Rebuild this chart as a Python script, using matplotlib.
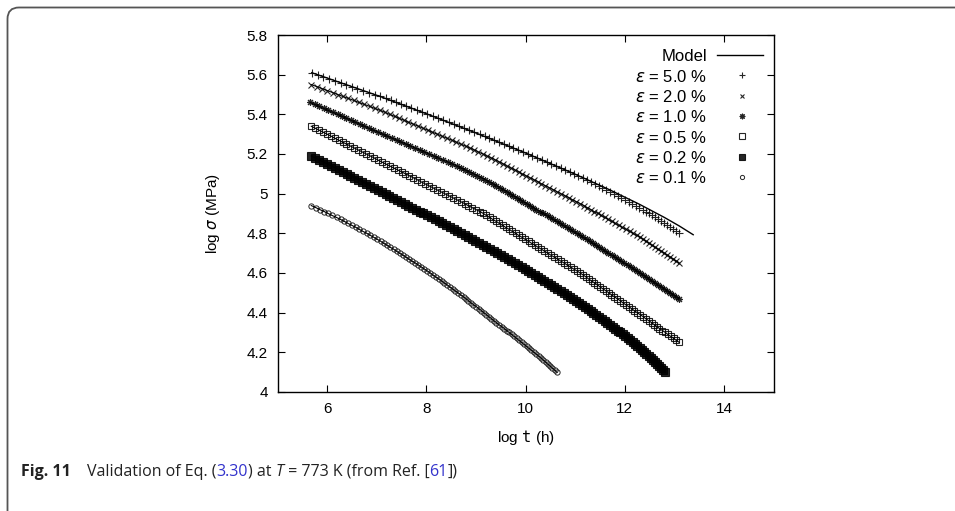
import matplotlib
matplotlib.use("Agg")
import matplotlib.pyplot as plt
from matplotlib.patches import FancyBboxPatch
from matplotlib.ticker import FuncFormatter

plt.rcParams["font.family"] = ["Liberation Sans", "DejaVu Sans"]
plt.rcParams["mathtext.fontset"] = "dejavusans"

# log sigma levels shared by all series (stress steps of the computed curves)
sig_levels = [
    5.61, 5.60, 5.59, 5.58, 5.57, 5.56, 5.55, 5.54, 5.53, 5.52,
    5.51, 5.50, 5.49, 5.48, 5.47, 5.46, 5.45, 5.44, 5.43, 5.42,
    5.41, 5.40, 5.39, 5.38, 5.37, 5.36, 5.35, 5.34, 5.33, 5.32,
    5.31, 5.30, 5.29, 5.28, 5.27, 5.26, 5.25, 5.24, 5.23, 5.22,
    5.21, 5.20, 5.19, 5.18, 5.17, 5.16, 5.15, 5.14, 5.13, 5.12,
    5.11, 5.10, 5.09, 5.08, 5.07, 5.06, 5.05, 5.04, 5.03, 5.02,
    5.01, 5.00, 4.99, 4.98, 4.97, 4.96, 4.95, 4.94, 4.93, 4.92,
    4.91, 4.90, 4.89, 4.88, 4.87, 4.86, 4.85, 4.84, 4.83, 4.82,
    4.81, 4.80, 4.79, 4.78, 4.77, 4.76, 4.75, 4.74, 4.73, 4.72,
    4.71, 4.70, 4.69, 4.68, 4.67, 4.66, 4.65, 4.64, 4.63, 4.62,
    4.61, 4.60, 4.59, 4.58, 4.57, 4.56, 4.55, 4.54, 4.53, 4.52,
    4.51, 4.50, 4.49, 4.48, 4.47, 4.46, 4.45, 4.44, 4.43, 4.42,
    4.41, 4.40, 4.39, 4.38, 4.37, 4.36, 4.35, 4.34, 4.33, 4.32,
    4.31, 4.30, 4.29, 4.28, 4.27, 4.26, 4.25, 4.24, 4.23, 4.22,
    4.21, 4.20, 4.19, 4.18, 4.17, 4.16, 4.15, 4.14, 4.13, 4.12,
    4.11, 4.10,
]

# log t values (h), one per stress level, starting at the given log sigma
t_50 = [
    5.69, 5.81, 5.92, 6.04, 6.15, 6.27, 6.38, 6.50, 6.61, 6.73,
    6.84, 6.96, 7.07, 7.18, 7.28, 7.39, 7.49, 7.60, 7.70, 7.81,
    7.92, 8.02, 8.13, 8.23, 8.34, 8.45, 8.55, 8.66, 8.76, 8.87,
    8.97, 9.08, 9.18, 9.27, 9.37, 9.46, 9.56, 9.66, 9.75, 9.85,
    9.95, 10.04, 10.14, 10.23, 10.33, 10.43, 10.52, 10.62, 10.71, 10.80,
    10.89, 10.98, 11.06, 11.15, 11.23, 11.31, 11.40, 11.48, 11.55, 11.63,
    11.71, 11.78, 11.86, 11.93, 12.01, 12.08, 12.15, 12.22, 12.29, 12.36,
    12.42, 12.49, 12.55, 12.61, 12.67, 12.74, 12.80, 12.86, 12.92, 12.98,
    13.04, 13.10,
]
t_20 = [
    5.68, 5.79, 5.89, 6.00, 6.11, 6.21, 6.32, 6.43, 6.54, 6.64,
    6.75, 6.86, 6.96, 7.07, 7.17, 7.26, 7.36, 7.45, 7.55, 7.64,
    7.74, 7.84, 7.93, 8.03, 8.12, 8.22, 8.31, 8.41, 8.51, 8.60,
    8.69, 8.79, 8.88, 8.97, 9.05, 9.14, 9.22, 9.31, 9.39, 9.47,
    9.55, 9.62, 9.70, 9.78, 9.86, 9.93, 10.01, 10.09, 10.17, 10.25,
    10.32, 10.40, 10.48, 10.56, 10.63, 10.71, 10.79, 10.87, 10.94, 11.02,
    11.10, 11.17, 11.24, 11.31, 11.38, 11.46, 11.53, 11.60, 11.67, 11.74,
    11.81, 11.88, 11.95, 12.03, 12.10, 12.17, 12.24, 12.31, 12.37, 12.43,
    12.49, 12.55, 12.61, 12.67, 12.74, 12.80, 12.86, 12.92, 12.98, 13.04,
    13.10,
]
t_10 = [
    5.66, 5.75, 5.84, 5.93, 6.02, 6.12, 6.21, 6.30, 6.39, 6.48,
    6.57, 6.66, 6.75, 6.84, 6.93, 7.03, 7.12, 7.21, 7.31, 7.40,
    7.49, 7.59, 7.68, 7.77, 7.87, 7.96, 8.05, 8.15, 8.24, 8.33,
    8.43, 8.52, 8.61, 8.69, 8.78, 8.86, 8.95, 9.03, 9.11, 9.19,
    9.26, 9.34, 9.41, 9.48, 9.55, 9.62, 9.69, 9.75, 9.82, 9.89,
    9.95, 10.02, 10.09, 10.16, 10.22, 10.29, 10.36, 10.43, 10.49, 10.56,
    10.63, 10.70, 10.76, 10.83, 10.90, 10.96, 11.03, 11.10, 11.16, 11.23,
    11.29, 11.35, 11.42, 11.48, 11.55, 11.61, 11.67, 11.74, 11.80, 11.86,
    11.93, 11.99, 12.06, 12.12, 12.18, 12.25, 12.31, 12.37, 12.43, 12.49,
    12.55, 12.61, 12.67, 12.74, 12.80, 12.86, 12.92, 12.98, 13.04, 13.10,
]
t_05 = [
    5.68, 5.76, 5.84, 5.92, 6.00, 6.08, 6.15, 6.23, 6.31, 6.39,
    6.47, 6.55, 6.63, 6.71, 6.79, 6.87, 6.95, 7.02, 7.10, 7.18,
    7.26, 7.34, 7.42, 7.50, 7.58, 7.66, 7.74, 7.82, 7.89, 7.97,
    8.05, 8.13, 8.21, 8.29, 8.37, 8.45, 8.53, 8.61, 8.69, 8.77,
    8.84, 8.92, 9.00, 9.08, 9.15, 9.21, 9.28, 9.34, 9.41, 9.47,
    9.54, 9.60, 9.67, 9.73, 9.80, 9.86, 9.93, 9.99, 10.06, 10.12,
    10.19, 10.25, 10.32, 10.38, 10.45, 10.51, 10.58, 10.65, 10.71, 10.78,
    10.84, 10.91, 10.97, 11.04, 11.10, 11.16, 11.22, 11.27, 11.33, 11.39,
    11.45, 11.50, 11.56, 11.62, 11.68, 11.73, 11.79, 11.85, 11.91, 11.96,
    12.02, 12.08, 12.14, 12.19, 12.25, 12.31, 12.37, 12.42, 12.48, 12.54,
    12.59, 12.65, 12.70, 12.76, 12.82, 12.87, 12.93, 12.99, 13.04, 13.10,
]
t_02 = [
    5.68, 5.76, 5.84, 5.92, 6.00, 6.08, 6.16, 6.24, 6.32, 6.40,
    6.47, 6.55, 6.63, 6.71, 6.79, 6.87, 6.94, 7.02, 7.10, 7.18,
    7.25, 7.33, 7.41, 7.49, 7.56, 7.64, 7.72, 7.79, 7.87, 7.94,
    8.02, 8.10, 8.17, 8.25, 8.32, 8.40, 8.47, 8.55, 8.62, 8.70,
    8.77, 8.85, 8.92, 8.99, 9.07, 9.14, 9.21, 9.29, 9.36, 9.43,
    9.50, 9.57, 9.64, 9.71, 9.78, 9.85, 9.92, 9.99, 10.05, 10.12,
    10.19, 10.25, 10.32, 10.38, 10.45, 10.51, 10.58, 10.64, 10.71, 10.77,
    10.83, 10.89, 10.96, 11.02, 11.08, 11.14, 11.20, 11.26, 11.31, 11.37,
    11.43, 11.49, 11.54, 11.60, 11.65, 11.70, 11.76, 11.81, 11.86, 11.91,
    11.96, 12.01, 12.06, 12.11, 12.16, 12.20, 12.25, 12.30, 12.34, 12.39,
    12.43, 12.48, 12.52, 12.56, 12.60, 12.65, 12.69, 12.73, 12.77, 12.81,
]
t_01 = [
    5.68, 5.77, 5.85, 5.94, 6.02, 6.10, 6.19, 6.27, 6.35, 6.42,
    6.50, 6.58, 6.65, 6.72, 6.80, 6.87, 6.94, 7.01, 7.08, 7.14,
    7.21, 7.27, 7.34, 7.40, 7.46, 7.53, 7.59, 7.65, 7.71, 7.78,
    7.84, 7.90, 7.96, 8.02, 8.08, 8.13, 8.19, 8.25, 8.31, 8.36,
    8.42, 8.47, 8.53, 8.58, 8.64, 8.69, 8.75, 8.80, 8.85, 8.90,
    8.95, 9.01, 9.06, 9.11, 9.16, 9.21, 9.26, 9.31, 9.36, 9.41,
    9.46, 9.52, 9.57, 9.62, 9.67, 9.72, 9.77, 9.82, 9.87, 9.92,
    9.97, 10.02, 10.07, 10.12, 10.17, 10.22, 10.27, 10.32, 10.36, 10.41,
    10.45, 10.50, 10.54, 10.59, 10.63,
]

strains = ["5.0", "2.0", "1.0", "0.5", "0.2", "0.1"]
sig_start = [5.61, 5.55, 5.46, 5.34, 5.19, 4.94]
t_series = [t_50, t_20, t_10, t_05, t_02, t_01]

# model curve where it leaves the 5 % points
model_t_50 = [5.69, 7.07, 8.0, 9.0, 10.0, 11.0, 11.7, 12.3, 12.8, 13.1, 13.38]
model_s_50 = [5.61, 5.49, 5.403, 5.306, 5.205, 5.098, 5.019, 4.946, 4.880, 4.837, 4.793]

x_ticks = [6, 8, 10, 12, 14]
y_ticks = [4.0, 4.2, 4.4, 4.6, 4.8, 5.0, 5.2, 5.4, 5.6, 5.8]

markers = [
    dict(marker="+", ms=5.5, mew=0.8, mfc="none"),
    dict(marker="x", ms=4.2, mew=0.8, mfc="none"),
    dict(marker=(8, 2, 0), ms=5, mew=0.8, mfc="none"),
    dict(marker="s", ms=4.6, mew=0.8, mfc="none"),
    dict(marker="s", ms=5.2, mew=0.8, mfc="black"),
    dict(marker="o", ms=3.8, mew=0.7, mfc="none"),
]

fig = plt.figure(figsize=(9.55, 5.11), dpi=100)
ax = fig.add_axes([0.2906, 0.2329, 0.5194, 0.6986])

for i, (s0, tt) in enumerate(zip(sig_start, t_series)):
    i0 = sig_levels.index(s0)
    ss = sig_levels[i0:i0 + len(tt)]
    ax.plot(tt, ss, ls="none", color="black", alpha=0.85, **markers[i])
    if i == 0:
        ax.plot(model_t_50, model_s_50, color="black", lw=1.0)
    else:
        ax.plot(tt, ss, color="black", lw=0.8)

ax.set_xlim(5, 15)
ax.set_ylim(4, 5.8)
ax.set_xticks(x_ticks)
ax.set_yticks(y_ticks)
ax.yaxis.set_major_formatter(FuncFormatter(lambda v, p: "%g" % round(v, 2)))
ax.tick_params(direction="in", top=True, right=True, length=5, width=0.8,
               labelsize=11, pad=7, colors="black")
for sp in ax.spines.values():
    sp.set_linewidth(1.0)

ax.set_xlabel(r"log $\mathtt{t}$ (h)", fontsize=11, labelpad=9)
ax.set_ylabel(r"log $\sigma$ (MPa)", fontsize=11, labelpad=18)

# key in the gnuplot style: right-aligned text, sample on the right
tx = ax.transAxes
row_y = 0.944
row_step = 0.0569
ax.text(0.866, row_y, "Model", transform=tx, ha="right", va="center_baseline",
        fontsize=12)
ax.plot([0.887, 0.979], [row_y, row_y], transform=tx, color="black", lw=1.0,
        clip_on=False)
for i, lab in enumerate(strains):
    yy = row_y - (i + 1) * row_step
    ax.text(0.866, yy, r"$\varepsilon$ = " + lab + " %", transform=tx,
            ha="right", va="center_baseline", fontsize=12)
    key_marker = dict(markers[i])
    key_marker["ms"] = markers[i]["ms"] * 0.8
    ax.plot([0.9357], [yy], transform=tx, ls="none", color="black",
            alpha=0.85, clip_on=False, **key_marker)

# rounded frame around the figure
frame = FancyBboxPatch((7.5 / 955, -0.2), 1.2, 1.2 - 7.5 / 511,
                       boxstyle="round,pad=0,rounding_size=0.012",
                       transform=fig.transFigure, fill=False,
                       ec="#555555", lw=1.3, mutation_aspect=955 / 511)
fig.patches.append(frame)

# caption
fig.canvas.draw()
renderer = fig.canvas.get_renderer()
pieces = [
    ("Fig. 11", dict(weight="bold"), "#222222", 0),
    ("Validation of Eq. (", {}, "#222222", 16),
    ("3.30", {}, "#3333cc", 0),
    (") at ", {}, "#222222", 0),
    ("T", dict(style="italic"), "#222222", 0),
    (" = 773 K (from Ref. [", {}, "#222222", 0),
    ("61", {}, "#3333cc", 0),
    ("])", {}, "#222222", 0),
]
x = 21 / 955
y = 1 - 476 / 511
for txt, kw, col, gap in pieces:
    x += gap / 955
    t = fig.text(x, y, txt, fontsize=11.5, family=["Open Sans", "DejaVu Sans"],
                 color=col, ha="left", va="baseline", **kw)
    bb = t.get_window_extent(renderer)
    x += bb.width / 955

fig.savefig("out.png", dpi=100)
